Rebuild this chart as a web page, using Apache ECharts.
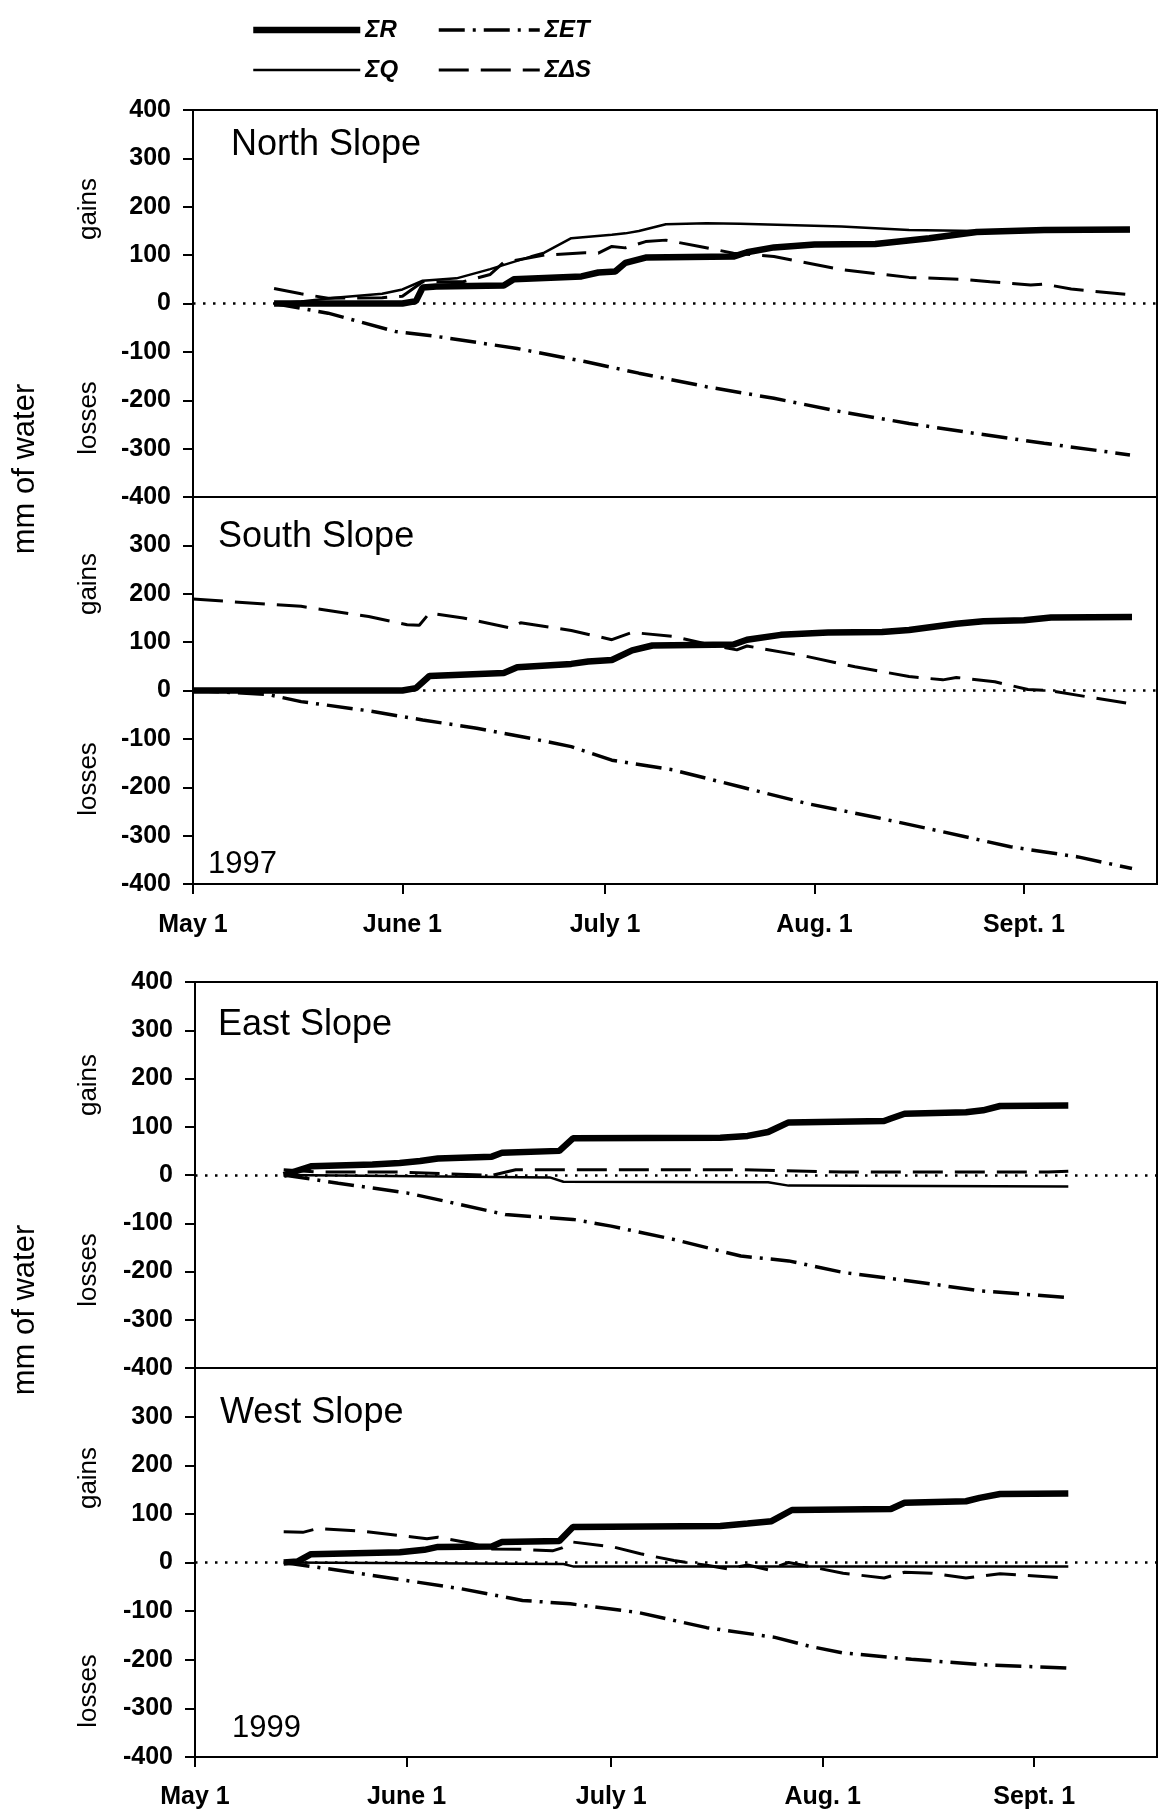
<!DOCTYPE html>
<html>
<head>
<meta charset="utf-8">
<script src="https://cdn.jsdelivr.net/npm/echarts@6/dist/echarts.min.js"></script>
<style>
html, body { margin: 0; padding: 0; background: #fff; }
#chart { width: 1159px; height: 1810px; }
</style>
</head>
<body>
<div id="chart"></div>
<script>
// x = days since May 1
const monthTicks = [0, 31, 61, 92, 123]
const monthLabels = ['May 1', 'June 1', 'July 1', 'Aug. 1', 'Sept. 1']

// 1997 North slope
const northR = [[12,0],[31,0],[33,5],[34,33],[36,35],[46,37],[47.5,50],[57.5,56],[60,64],[62.5,66],[64,84],[67,95],[80,97],[82,106],[86,116],[92,122],[101,123],[109,135],[116,148],[126,152],[138.7,153]]
const northQ = [[12,0],[16,4],[21,12],[28,20],[31,29],[34,47],[39,52],[44,71],[50,97],[52,105],[56,135],[62,142],[64,145],[66,150],[70,164],[76,166],[81,165],[96,159],[106,152],[116,150],[138.7,150]]
const northS = [[12,31],[16,20],[20,11],[28,12],[31,15],[34,45],[40,45],[44,60],[46,85],[52,100],[58,105],[60,104],[62,118],[64,115],[67,128],[70,131],[75,118],[80,104],[86,97],[96,70],[106,54],[114,50],[118,45],[124,38],[126,40],[130,30],[138,19]]
const northET = [[12,0],[20,-20],[30,-58],[36,-68],[48,-93],[58,-120],[66,-144],[76,-172],[86,-196],[96,-224],[106,-248],[116,-269],[126,-289],[138.7,-313]]

// 1997 South slope
const southR = [[0,0],[31,0],[33,5],[35,30],[46,36],[48,48],[56,55],[58.5,60],[62,63],[65,83],[68,93],[80,95],[82,105],[87,115],[94,120],[102,121],[106,125],[113,138],[117,143],[123,145],[127,151],[139,152]]
const southS = [[0,189],[16,174],[26,153],[31.7,136],[33.5,135],[35,160],[40,150],[47,129],[48.5,140],[56,124],[62,105],[65,120],[71,112],[76,96],[80.5,84],[82,92],[91,70],[98,49],[106,29],[111,22],[113,27],[118.7,18],[123.6,2],[126.6,0],[139,-28]]
const southET = [[0,0],[11,-8],[16,-23],[26,-42],[34,-61],[42,-78],[50,-99],[56,-116],[62,-144],[71,-164],[81,-199],[91,-234],[101,-262],[111,-292],[121,-323],[131,-344],[139,-368]]

// 1999 East slope
const eastR = [[13,0],[17,18],[26,22],[30,25],[33,29],[35.6,34],[43.5,38],[45,46],[53.4,50],[55.4,76],[77,77],[81,81],[84,89],[87,109],[101,112],[102,117],[104,127],[113,130],[115.5,134],[118,143],[128,144]]
const eastQ = [[13,0],[52,-5],[54,-14],[84,-15],[87,-22],[128,-24]]
const eastS = [[13,11],[18,6],[30,6],[43.5,-1],[47,11],[80,11],[95,6],[125,6],[128,8]]
const eastET = [[13,0],[21,-17],[31,-37],[35.6,-51],[45.5,-82],[55.4,-92],[61,-106],[70,-133],[80,-168],[87,-178],[95,-202],[105,-220],[115,-240],[128,-254]]

// 1999 West slope
const westR = [[13,0],[15,2],[17,17],[30,21],[33.6,26],[35.6,32],[43.5,33],[45,42],[53.4,44],[55.4,73],[77,75],[81,80],[84.5,85],[87.5,108],[102,110],[104,123],[113,126],[115,133],[118,141],[128,142]]
const westQ = [[13,0],[54,-3],[55.4,-8],[128,-8]]
const westS = [[13,63],[15.8,62],[18,70],[24,65],[31.6,53],[34,49],[35.6,52],[40.6,39],[43.5,28],[48,27],[52.4,24],[53.8,30],[55.4,42],[61.3,32],[65.3,18],[70.2,4],[75.2,-6],[78,-13],[81,-5],[84,-15],[87,0],[90,-8],[95,-22],[101,-32],[104,-20],[108,-22],[113,-32],[118,-23],[128,-32]]
const westET = [[13,0],[21,-16],[31,-37],[39,-54],[48,-78],[55,-85],[65,-103],[75,-134],[85,-154],[90,-172],[95,-186],[105,-199],[115,-210],[128,-217]]

const FONT = '"Liberation Sans", Arial, sans-serif'

const styles = {
  'ΣR':  { width: 6.5, type: 'solid' },
  'ΣQ':  { width: 2.5, type: 'solid' },
  'ΣET': { width: 3.5, type: [26, 8, 3, 8] },
  'ΣΔS': { width: 3, type: [30, 12] }
}

const panels = [
  { top: 110, left: 193, width: 964, height: 387, xmax: 142.7, labels: false, hideTop: false },
  { top: 497, left: 193, width: 964, height: 387, xmax: 142.7, labels: true, hideTop: true },
  { top: 982, left: 195, width: 962, height: 386, xmax: 141, labels: false, hideTop: false },
  { top: 1368, left: 195, width: 962, height: 389, xmax: 141, labels: true, hideTop: true }
]

const panelSeries = [
  [['ΣR', northR], ['ΣQ', northQ], ['ΣΔS', northS], ['ΣET', northET]],
  [['ΣR', southR], ['ΣΔS', southS], ['ΣET', southET]],
  [['ΣR', eastR], ['ΣQ', eastQ], ['ΣΔS', eastS], ['ΣET', eastET]],
  [['ΣR', westR], ['ΣQ', westQ], ['ΣΔS', westS], ['ΣET', westET]]
]

const series = []
panelSeries.forEach((list, i) => {
  list.forEach(([name, data], k) => {
    series.push({
      type: 'line', name, data,
      xAxisIndex: i, yAxisIndex: i,
      symbol: 'none', silent: true, animation: false,
      color: '#000',
      lineStyle: { color: '#000', width: styles[name].width, type: styles[name].type },
      z: 3,
      markLine: k === 0 ? {
        silent: true, symbol: 'none', animation: false,
        label: { show: false },
        lineStyle: { color: '#000', width: 2.5, type: [2.5, 7.5] },
        data: [{ yAxis: 0 }]
      } : undefined
    })
  })
})

const legendText = { fontFamily: FONT, fontSize: 24, fontWeight: 'bold', fontStyle: 'italic', color: '#000' }
const legendItem = name => ({
  name,
  itemStyle: { opacity: 0, color: 'rgba(0,0,0,0)', borderWidth: 0 },
  lineStyle: { color: '#000', width: styles[name].width, type: styles[name].type }
})

const text = (t, x, y, size, rot) => ({
  type: 'text', x, y, rotation: rot || 0, silent: true,
  style: { text: t, fill: '#000', font: size + 'px ' + FONT, textAlign: rot ? 'center' : 'left', textVerticalAlign: 'middle' }
})

const chart = echarts.init(document.getElementById('chart'), null, { renderer: 'canvas' })
chart.setOption({
  backgroundColor: '#fff',
  animation: false,
  legend: [
    { orient: 'vertical', left: 245, top: 13, itemWidth: 107, itemHeight: 24, itemGap: 16,
      selectedMode: false, textStyle: legendText,
      data: [legendItem('ΣR'), legendItem('ΣQ')] },
    { orient: 'vertical', left: 432, top: 13, itemWidth: 101, itemHeight: 24, itemGap: 16,
      selectedMode: false, textStyle: legendText,
      data: [legendItem('ΣET'), legendItem('ΣΔS')] }
  ],
  grid: panels.map(p => ({
    left: p.left, top: p.top, width: p.width, height: p.height,
    show: true, borderColor: '#000', borderWidth: 2, containLabel: false
  })),
  xAxis: panels.map((p, i) => ({
    type: 'value', gridIndex: i, min: 0, max: p.xmax,
    splitLine: { show: false },
    axisLine: { show: true, onZero: false, lineStyle: { color: '#000', width: 2 } },
    axisTick: { show: p.labels, inside: false, length: 10, customValues: monthTicks, lineStyle: { color: '#000', width: 2 } },
    axisLabel: {
      show: p.labels, customValues: monthTicks, margin: i === 1 ? 29 : 28,
      formatter: v => monthLabels[monthTicks.indexOf(v)] || '',
      fontFamily: FONT, fontSize: 25, fontWeight: 'bold', color: '#000'
    }
  })),
  yAxis: panels.map((p, i) => ({
    type: 'value', gridIndex: i, min: -400, max: 400, interval: 100,
    splitLine: { show: false },
    axisLine: { show: true, lineStyle: { color: '#000', width: 2 } },
    axisTick: { show: true, inside: false, length: 10, lineStyle: { color: '#000', width: 2 } },
    axisLabel: {
      margin: 22, fontFamily: FONT, fontSize: 25, fontWeight: 'bold', color: '#000',
      formatter: v => (p.hideTop && v === 400) ? '' : String(v)
    }
  })),
  series,
  graphic: [
    text('North Slope', 231, 145, 36),
    text('South Slope', 218, 537, 36),
    text('East Slope', 218, 1025, 36),
    text('West Slope', 220, 1413, 36),
    text('1997', 208, 864, 31),
    text('1999', 232, 1728, 31),
    text('gains', 89, 209, 26, Math.PI / 2),
    text('losses', 89, 418, 26, Math.PI / 2),
    text('gains', 89, 584, 26, Math.PI / 2),
    text('losses', 89, 779, 26, Math.PI / 2),
    text('gains', 89, 1085, 26, Math.PI / 2),
    text('losses', 89, 1270, 26, Math.PI / 2),
    text('gains', 89, 1478, 26, Math.PI / 2),
    text('losses', 89, 1691, 26, Math.PI / 2),
    text('mm of water', 25, 469, 31, Math.PI / 2),
    text('mm of water', 25, 1310, 31, Math.PI / 2)
  ]
})
</script>
</body>
</html>
